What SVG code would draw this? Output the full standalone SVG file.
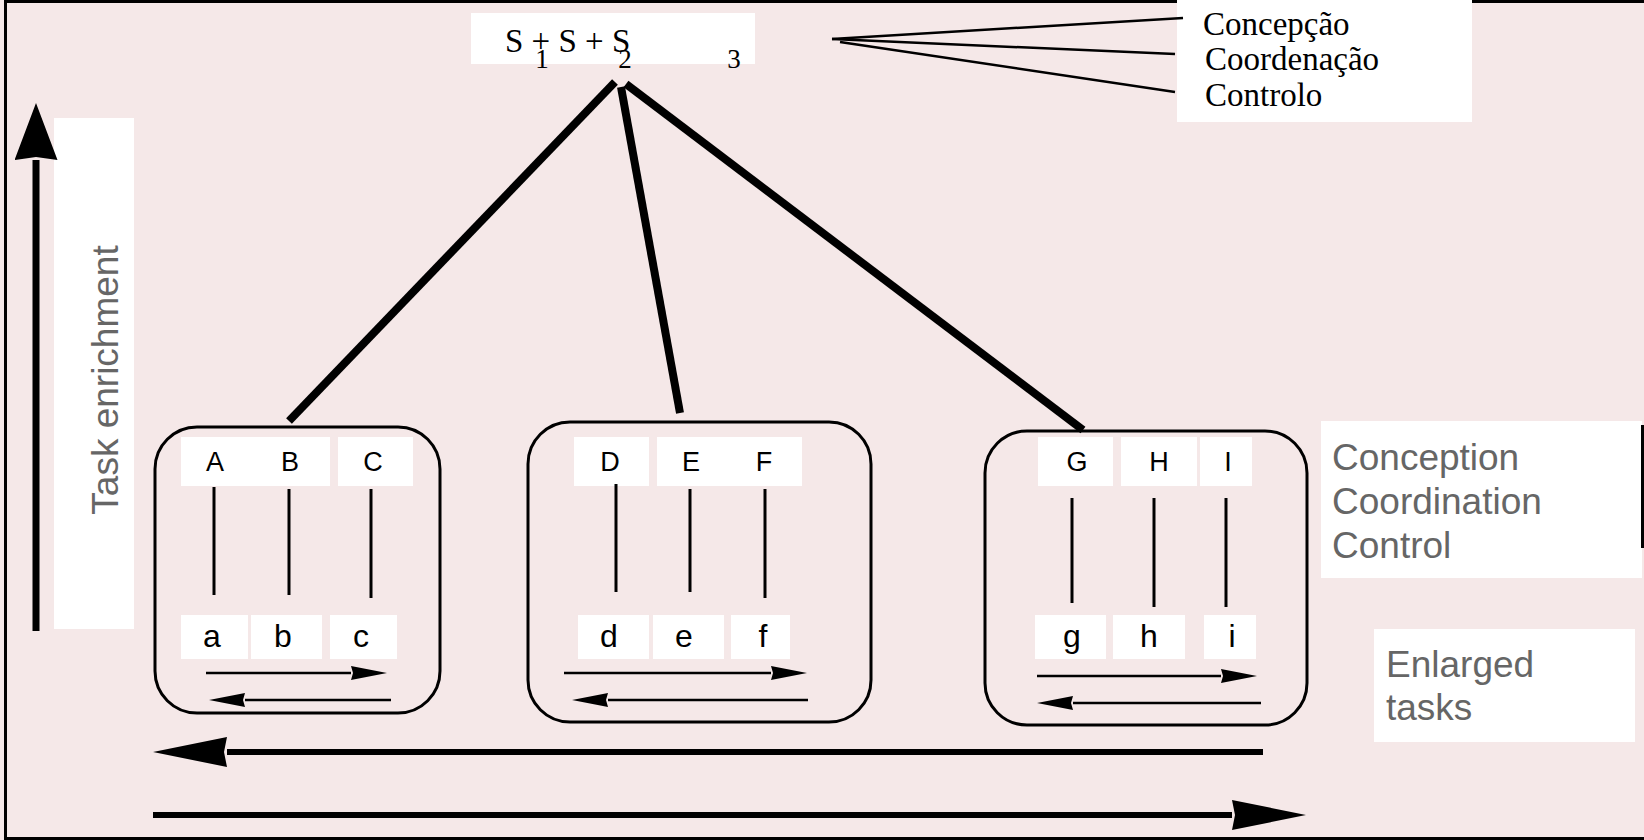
<svg xmlns="http://www.w3.org/2000/svg" width="1644" height="840" viewBox="0 0 1644 840">
  <style>
    .bg { fill: #f5e8e8; }
    .frame { fill: none; stroke: #000; stroke-width: 3; }
    .label { fill: #fff; }
    .group { fill: none; stroke: #000; stroke-width: 3; }
    .serif { font-family: "Liberation Serif", "Times New Roman", serif; fill: #000; }
    .cap { font-family: "Liberation Sans", Arial, sans-serif; font-size: 27px; fill: #000; text-anchor: middle; }
    .low { font-family: "Liberation Sans", Arial, sans-serif; font-size: 32px; fill: #000; text-anchor: middle; }
    .note { font-family: "Liberation Sans", Arial, sans-serif; font-size: 37px; fill: #666; }
    .link { stroke: #000; stroke-width: 3; fill: none; }
    .thick { stroke: #000; stroke-width: 8; fill: none; stroke-linecap: butt; }
    .fan { stroke: #000; stroke-width: 2.5; fill: none; }
    .flow { stroke: #000; stroke-width: 2.5; fill: none; marker-end: url(#head-small); }
    .big { stroke: #000; stroke-width: 6; fill: none; marker-end: url(#head-big); }
  </style>
  <defs>
    <marker id="head-small" markerUnits="userSpaceOnUse" viewBox="0 0 36 14" markerWidth="36" markerHeight="14" refX="0" refY="7" orient="auto">
      <path d="M0,0 L36,7 L0,14 L2,7 z" fill="#000"/>
    </marker>
    <marker id="head-big" markerUnits="userSpaceOnUse" viewBox="0 0 74 30" markerWidth="74" markerHeight="30" refX="0" refY="15" orient="auto">
      <path d="M0,0 L74,15 L0,30 L3,15 z" fill="#000"/>
    </marker>
    <marker id="head-up" markerUnits="userSpaceOnUse" viewBox="0 0 57 43" markerWidth="57" markerHeight="43" refX="0" refY="21.5" orient="auto">
      <path d="M0,0 L57,21.5 L0,43 L3,21.5 z" fill="#000"/>
    </marker>
  </defs>

  <!-- background and frame -->
  <rect class="bg" x="0" y="0" width="1644" height="840"/>
  <rect class="frame" x="5.5" y="1.5" width="1645" height="837"/>

  <!-- top formula -->
  <g id="formula">
    <rect class="label" x="471" y="13" width="284" height="51"/>
    <text class="serif" x="505" y="52" font-size="33">S + S + S</text>
    <text class="serif" x="542" y="68" font-size="27" text-anchor="middle">1</text>
    <text class="serif" x="625" y="68" font-size="27" text-anchor="middle">2</text>
    <text class="serif" x="734" y="68" font-size="27" text-anchor="middle">3</text>
  </g>

  <!-- Portuguese legend -->
  <g id="legend-pt">
    <rect class="label" x="1177" y="0" width="295" height="122"/>
    <text class="serif" x="1203" y="35" font-size="33">Concepção</text>
    <text class="serif" x="1205" y="70" font-size="33">Coordenação</text>
    <text class="serif" x="1205" y="106" font-size="33">Controlo</text>
  </g>

  <!-- vertical axis label -->
  <g id="axis-enrichment">
    <rect class="label" x="54" y="118" width="80" height="511"/>
    <text class="note" transform="translate(118,380) rotate(-90)" text-anchor="middle">Task enrichment</text>
  </g>

  <!-- right-hand labels -->
  <g id="legend-en">
    <rect class="label" x="1321" y="421" width="321" height="157"/>
    <line x1="1642.5" y1="425" x2="1642.5" y2="548" stroke="#000" stroke-width="3"/>
    <text class="note" x="1332" y="470">Conception</text>
    <text class="note" x="1332" y="514">Coordination</text>
    <text class="note" x="1332" y="558">Control</text>
  </g>
  <g id="legend-enlarged">
    <rect class="label" x="1374" y="629" width="261" height="113"/>
    <text class="note" x="1386" y="677">Enlarged</text>
    <text class="note" x="1386" y="720">tasks</text>
  </g>

  <!-- group 1: A B C -->
  <g id="group-abc">
    <rect class="group" x="155" y="427" width="285" height="286" rx="42"/>
    <rect class="label" x="181" y="437" width="149" height="49"/>
    <rect class="label" x="338" y="437" width="75" height="49"/>
    <text class="cap" x="215" y="471">A</text>
    <text class="cap" x="290" y="471">B</text>
    <text class="cap" x="373" y="471">C</text>
    <line class="link" x1="214" y1="487" x2="214" y2="595"/>
    <line class="link" x1="289" y1="489" x2="289" y2="595"/>
    <line class="link" x1="371" y1="489" x2="371" y2="598"/>
    <rect class="label" x="181" y="615" width="67" height="44"/>
    <rect class="label" x="251" y="615" width="71" height="44"/>
    <rect class="label" x="330" y="615" width="67" height="44"/>
    <text class="low" x="212" y="647">a</text>
    <text class="low" x="283" y="647">b</text>
    <text class="low" x="361" y="647">c</text>
  </g>

  <!-- group 2: D E F -->
  <g id="group-def">
    <rect class="group" x="528" y="422" width="343" height="300" rx="42"/>
    <rect class="label" x="574" y="437" width="75" height="49"/>
    <rect class="label" x="657" y="437" width="145" height="49"/>
    <text class="cap" x="610" y="471">D</text>
    <text class="cap" x="691" y="471">E</text>
    <text class="cap" x="764" y="471">F</text>
    <line class="link" x1="616" y1="484" x2="616" y2="592"/>
    <line class="link" x1="690" y1="489" x2="690" y2="592"/>
    <line class="link" x1="765" y1="489" x2="765" y2="598"/>
    <rect class="label" x="578" y="615" width="71" height="44"/>
    <rect class="label" x="653" y="615" width="71" height="44"/>
    <rect class="label" x="731" y="615" width="59" height="44"/>
    <text class="low" x="609" y="647">d</text>
    <text class="low" x="684" y="647">e</text>
    <text class="low" x="763" y="647">f</text>
  </g>

  <!-- group 3: G H I -->
  <g id="group-ghi">
    <rect class="group" x="985" y="431" width="322" height="294" rx="42"/>
    <rect class="label" x="1038" y="437" width="75" height="49"/>
    <rect class="label" x="1121" y="437" width="76" height="49"/>
    <rect class="label" x="1200" y="437" width="52" height="49"/>
    <text class="cap" x="1077" y="471">G</text>
    <text class="cap" x="1159" y="471">H</text>
    <text class="cap" x="1228" y="471">I</text>
    <line class="link" x1="1072" y1="498" x2="1072" y2="603"/>
    <line class="link" x1="1154" y1="498" x2="1154" y2="607"/>
    <line class="link" x1="1226" y1="498" x2="1226" y2="607"/>
    <rect class="label" x="1035" y="615" width="71" height="44"/>
    <rect class="label" x="1113" y="615" width="72" height="44"/>
    <rect class="label" x="1204" y="615" width="52" height="44"/>
    <text class="low" x="1072" y="647">g</text>
    <text class="low" x="1149" y="647">h</text>
    <text class="low" x="1232" y="647">i</text>
  </g>

  <!-- connectors -->
  <g id="connectors">
    <line class="thick" x1="615" y1="82" x2="289" y2="421"/>
    <line class="thick" x1="621" y1="87" x2="680" y2="413"/>
    <line class="thick" x1="626" y1="84" x2="1083" y2="430"/>

    <line class="fan" x1="832" y1="39" x2="1183" y2="18"/>
    <line class="fan" x1="832" y1="39" x2="1175" y2="54"/>
    <line class="fan" x1="840" y1="42" x2="1175" y2="92"/>

    <line class="flow" x1="206" y1="673" x2="351" y2="673"/>
    <line class="flow" x1="391" y1="700" x2="245" y2="700"/>
    <line class="flow" x1="564" y1="673" x2="771" y2="673"/>
    <line class="flow" x1="808" y1="700" x2="608" y2="700"/>
    <line class="flow" x1="1037" y1="676" x2="1221" y2="676"/>
    <line class="flow" x1="1261" y1="703" x2="1073" y2="703"/>

    <line class="big" x1="1263" y1="752" x2="227" y2="752"/>
    <line class="big" x1="153" y1="815" x2="1232" y2="815"/>
    <line stroke="#000" stroke-width="7" x1="36" y1="631" x2="36" y2="160" marker-end="url(#head-up)"/>
  </g>
</svg>
